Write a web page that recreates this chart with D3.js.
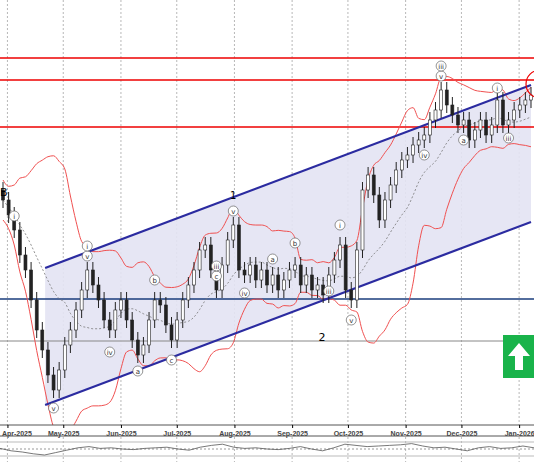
<!DOCTYPE html>
<html><head><meta charset="utf-8">
<script src="https://cdn.jsdelivr.net/npm/d3@7"></script>
<style>body{margin:0;background:#fff}svg{display:block;font-family:"DejaVu Sans",sans-serif}</style>
</head><body><svg id="chart" width="534" height="462"></svg>
<script>
// closes (price units), one candle every ~3 days
var closes = [225,210,195,170,155,125,95,75,50,35,55,80,95,115,135,155,140,125,105,95,
  115,125,105,85,70,80,105,125,120,100,85,105,125,140,155,175,180,155,135,160,
  185,200,155,150,160,145,155,140,150,135,145,155,160,140,150,135,140,130,150,165,
  180,135,125,175,235,250,230,205,225,240,255,265,270,280,285,290,305,315,335,320,
  310,300,305,285,295,305,290,300,325,300,305,315,320,325,330];
var monthTicks = ["2025-04-01","2025-05-01","2025-06-01","2025-07-01","2025-08-01","2025-09-01","2025-10-01","2025-11-01","2025-12-01","2026-01-01"];
var hLevelsRed = [367, 345, 298];
var hLevelBlue = 126;
var hLevelGray = 84;
var osc = [0.1,-0.3,-0.5,-0.8,-1,-0.6,-0.2,0.2,0.4,0.1,0.2,0,-0.1,0.1,0.2,0.3,0,-0.2,0.3,0.6,0.8,0.3,0.1,0.2,0,-0.1,0.1,0.4,0,-0.3,0.2,0.8,0.6,0.4,0.5,0.6,0.7,0.9,0.5,0.2,0.3,0,-0.3,0.2,0.4,0.1,0.2,0.5,0.2];
var waveLabels = [
  {i:2,t:"i",dy:-14},{i:9,t:"v",dy:18},{i:15,t:"v",dy:-14},{i:15,t:"i",dy:-24},
  {i:19,t:"iv",dy:22},{i:24,t:"a",dy:16},{i:27,t:"b",dy:-20},{i:30,t:"c",dy:20},
  {i:38,t:"c",dy:-14},{i:38,t:"iii",dy:-24},{i:41,t:"v",dy:-14},{i:43,t:"iv",dy:18},
  {i:48,t:"a",dy:-16},{i:52,t:"b",dy:-22},{i:58,t:"iii",dy:16},{i:62,t:"v",dy:20},
  {i:60,t:"i",dy:-20},{i:78,t:"v",dy:-14},{i:78,t:"iii",dy:-24},{i:82,t:"a",dy:20},
  {i:88,t:"i",dy:-12},{i:90,t:"iii",dy:18},{i:75,t:"iv",dy:20}];
var channelLow = [[7.5,20],[94,203]];
var channelUp = [[7.5,157],[94,340]];

var svg = d3.select("#chart");
var W = 534, plotH = 425;
var x = d3.scaleLinear().domain([0, closes.length - 1]).range([3, 531]);
var y = d3.scaleLinear().domain([0, 425]).range([plotH, 0]);
var t = d3.scaleTime().domain([new Date("2025-03-28"), new Date("2026-01-09")]).range([0, W]);

// grid
svg.selectAll(".vg").data(monthTicks).enter().append("line")
  .attr("x1", d => t(new Date(d))).attr("x2", d => t(new Date(d)))
  .attr("y1", 0).attr("y2", 462).attr("stroke", "#999").attr("stroke-dasharray", "2,2").attr("stroke-width", 0.7);

// channel fill
var ch = [channelLow[0], channelLow[1], channelUp[1], channelUp[0]];
svg.append("path").attr("d", "M" + ch.map(p => x(p[0]) + "," + y(p[1])).join("L") + "Z")
  .attr("fill", "#e3e3f3").attr("opacity", 0.9);

// horizontal levels
svg.selectAll(".hr").data(hLevelsRed).enter().append("line")
  .attr("x1", 0).attr("x2", W).attr("y1", d => y(d)).attr("y2", d => y(d))
  .attr("stroke", "#e00").attr("stroke-width", 1.5);
svg.append("line").attr("x1", 0).attr("x2", W).attr("y1", y(hLevelBlue)).attr("y2", y(hLevelBlue))
  .attr("stroke", "#1a3d7c").attr("stroke-width", 1.5);
svg.append("line").attr("x1", 0).attr("x2", W).attr("y1", y(hLevelGray)).attr("y2", y(hLevelGray))
  .attr("stroke", "#888").attr("stroke-width", 1);

// bollinger
var N = 12, mid = [], up = [], lo = [];
closes.forEach(function(c, i) {
  var w = closes.slice(Math.max(0, i - N + 1), i + 1);
  var m = d3.mean(w), s = d3.deviation(w) || 10;
  mid.push([i, m]); up.push([i, m + 2 * s]); lo.push([i, m - 2 * s]);
});
var ln = d3.line().x(d => x(d[0])).y(d => y(d[1])).curve(d3.curveMonotoneX);
svg.append("path").attr("d", ln(mid)).attr("fill", "none").attr("stroke", "#777").attr("stroke-dasharray", "2,2").attr("stroke-width", 0.8);
[up, lo].forEach(function(b) {
  svg.append("path").attr("d", ln(b)).attr("fill", "none").attr("stroke", "#f05050").attr("stroke-width", 1);
});

// channel lines
[channelLow, channelUp].forEach(function(c) {
  svg.append("line").attr("x1", x(c[0][0])).attr("y1", y(c[0][1])).attr("x2", x(c[1][0])).attr("y2", y(c[1][1]))
    .attr("stroke", "#2b2ba0").attr("stroke-width", 2.2);
});

// candles
var bw = 3;
closes.forEach(function(c, i) {
  var o = i ? closes[i - 1] : c + 10;
  var hi = Math.max(o, c) + 8, low = Math.min(o, c) - 8;
  var g = svg.append("g");
  g.append("line").attr("x1", x(i)).attr("x2", x(i)).attr("y1", y(hi)).attr("y2", y(low)).attr("stroke", "#222");
  g.append("rect").attr("x", x(i) - bw / 2).attr("width", bw)
    .attr("y", y(Math.max(o, c))).attr("height", Math.max(1, Math.abs(y(o) - y(c))))
    .attr("fill", c >= o ? "#fff" : "#222").attr("stroke", "#222").attr("stroke-width", 0.6);
});

// wave labels
var wl = svg.selectAll(".wl").data(waveLabels).enter().append("g")
  .attr("transform", d => "translate(" + x(d.i) + "," + (y(closes[d.i]) + d.dy) + ")");
wl.append("circle").attr("r", 5).attr("fill", "#fff").attr("stroke", "#666").attr("stroke-width", 0.7);
wl.append("text").text(d => d.t).attr("text-anchor", "middle").attr("dy", 3).attr("font-size", 7).attr("fill", "#333");
svg.append("text").attr("x", 0).attr("y", 196).text("B").attr("font-size", 11);
svg.append("text").attr("x", x(41)).attr("y", 199).text("1").attr("font-size", 10).attr("text-anchor", "middle");
svg.append("text").attr("x", 322).attr("y", 341).text("2").attr("font-size", 11).attr("text-anchor", "middle");
svg.append("circle").attr("cx", 540).attr("cy", 84).attr("r", 14).attr("fill", "none").attr("stroke", "#e00").attr("stroke-width", 1.2);

// signal box
svg.append("rect").attr("x", 503).attr("y", 335).attr("width", 31).attr("height", 43).attr("fill", "#19b34a");
svg.append("path").attr("d", "M519,343L530,356L523,356L523,370L515,370L515,356L508,356Z").attr("fill", "#fff");

// x axis
svg.append("rect").attr("x", 0).attr("y", plotH).attr("width", W).attr("height", 37).attr("fill", "#fff");
svg.append("line").attr("x1", 0).attr("x2", W).attr("y1", plotH).attr("y2", plotH).attr("stroke", "#555");
svg.append("g").attr("transform", "translate(0," + plotH + ")")
  .call(d3.axisBottom(t).tickValues(monthTicks.map(d => new Date(d))).tickFormat(d3.timeFormat("%b-%Y")).tickSize(3))
  .call(g => g.select(".domain").remove())
  .selectAll("text").attr("font-size", 7).attr("font-weight", "bold").attr("fill", "#444")
  .attr("text-anchor", (d, i) => i === 0 ? "start" : "middle").attr("dx", (d, i) => i === 0 ? -6 : 0);
svg.selectAll(".vg2").data(monthTicks).enter().append("line")
  .attr("x1", d => t(new Date(d))).attr("x2", d => t(new Date(d)))
  .attr("y1", 437).attr("y2", 462).attr("stroke", "#999").attr("stroke-dasharray", "2,2").attr("stroke-width", 0.7);

// oscillator
var oy = d3.scaleLinear().domain([-1.5, 1.5]).range([458, 440]);
svg.append("line").attr("x1", 0).attr("x2", W).attr("y1", 436).attr("y2", 436).attr("stroke", "#555");
[442, 456].forEach(v => svg.append("line").attr("x1", 0).attr("x2", W).attr("y1", v).attr("y2", v).attr("stroke", "#bbb"));
svg.append("line").attr("x1", 0).attr("x2", W).attr("y1", oy(0)).attr("y2", oy(0)).attr("stroke", "#999").attr("stroke-dasharray", "2,2");
var ox = d3.scaleLinear().domain([0, osc.length - 1]).range([0, W]);
svg.append("path").attr("d", d3.line().x((d, i) => ox(i)).y(d => oy(d))(osc)).attr("fill", "none").attr("stroke", "#555").attr("stroke-width", 0.8);
</script></body></html>
